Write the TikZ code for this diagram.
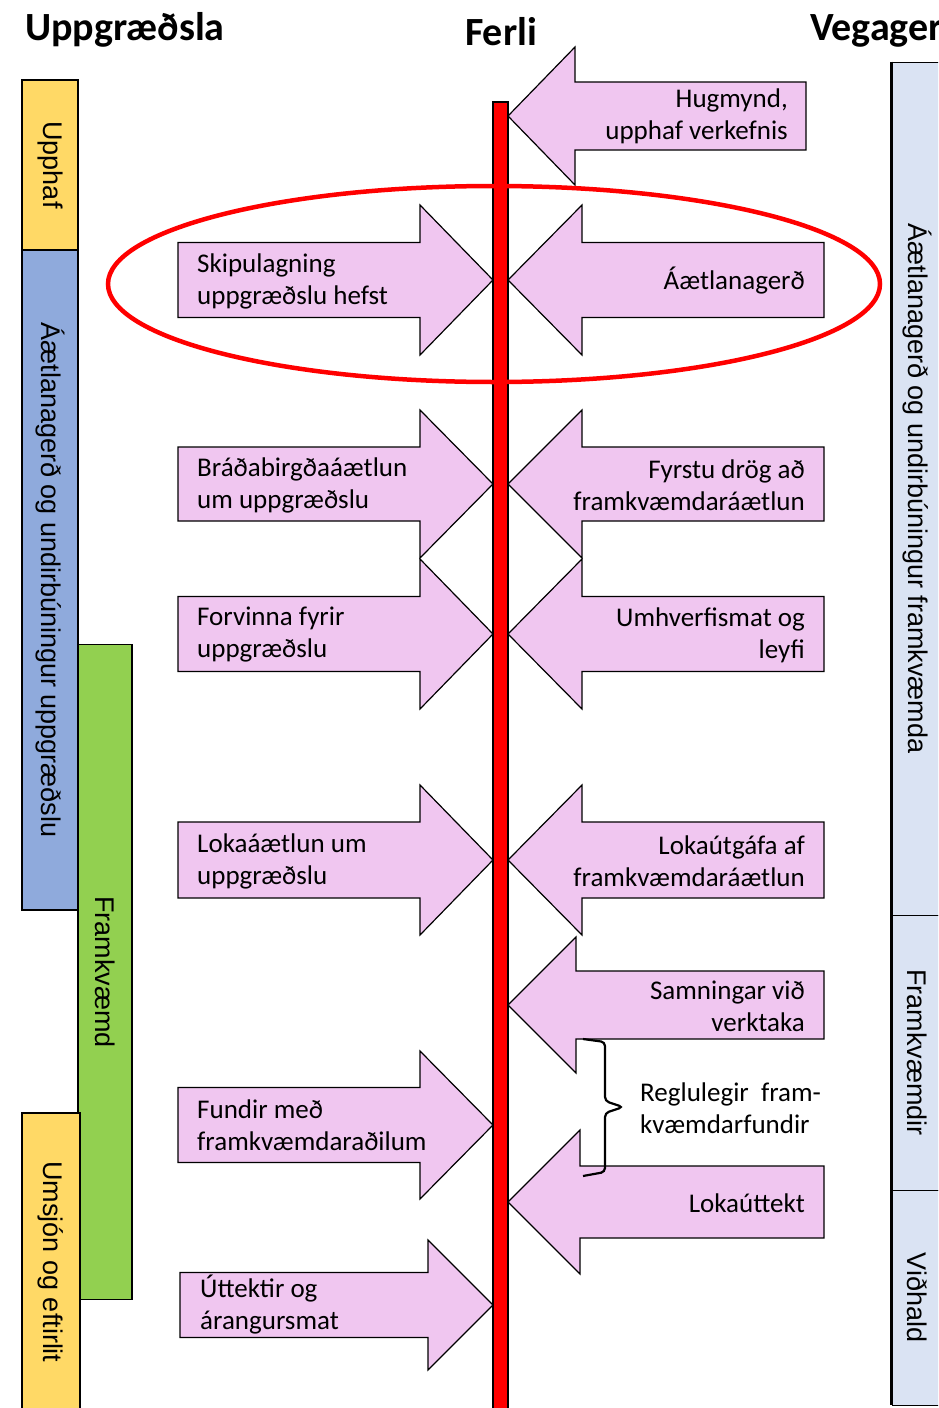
\documentclass[tikz,border=0pt]{standalone}
\usepackage{fontspec}
\setmainfont{Carlito}
\newfontfamily\barfont{Liberation Sans}
\definecolor{arrpink}{RGB}{240,198,240}
\definecolor{barylw}{RGB}{255,217,102}
\definecolor{barblu}{RGB}{143,170,220}
\definecolor{bargrn}{RGB}{146,208,80}
\definecolor{barlbl}{RGB}{218,227,243}

% body end x, head base x, tip x, centre y, half body, half head
\newcommand{\pinkarrow}[6]{%
\draw[parr] ({#1},{#4-#5}) -- ({#2},{#4-#5}) -- ({#2},{#4-#6}) -- ({#3},{#4})
  -- ({#2},{#4+#6}) -- ({#2},{#4+#5}) -- ({#1},{#4+#5}) -- cycle;}

\begin{document}
\begin{tikzpicture}[x=1pt,y=-1pt,
 parr/.style={fill=arrpink,draw=black,line width=1.2pt},
 ltxt/.style={anchor=west,align=left,inner sep=0pt,font=\fontsize{27}{32}\selectfont},
 rtxt/.style={anchor=east,align=right,inner sep=0pt,font=\fontsize{27}{32}\selectfont},
 head/.style={inner sep=0pt,font=\fontsize{40}{46}\selectfont\bfseries},
 lbar/.style={draw=black,line width=1.2pt,rotate=-90,inner sep=0pt,font=\barfont\fontsize{27}{32}\selectfont},
 rbar/.style={fill=barlbl,draw=black,line width=0.8pt,rotate=-90,inner sep=0pt,minimum height=50pt,font=\barfont\fontsize{27}{32}\selectfont}]
\def\tipL{493}
\def\tipR{508}
\path[use as bounding box] (0,0) rectangle (938,1408);
\clip (0,0) rectangle (938,1408);
  % headers
\node[head,anchor=base west] (hupp) at (25,40) {Uppgræðsla};
\node[head,anchor=base] (hferli) at (501,45) {Ferli};
\node[head,anchor=base west] (hveg) at (810,40) {Vegagerð};
  % left bars
\node[lbar,fill=barylw,minimum width=170pt,minimum height=56pt] (upphaf) at (50,165) {Upphaf};
\node[lbar,fill=barblu,minimum width=660pt,minimum height=56pt] (aaetl) at (50,580) {Áætlanagerð og undirbúningur uppgræðslu};
\node[lbar,fill=bargrn,minimum width=655pt,minimum height=54pt] (framkv) at (105,972) {Framkvæmd};
\node[lbar,fill=barylw,minimum width=298pt,minimum height=58pt] (umsjon) at (51,1262) {Umsjón og eftirlit};
  % right bars
\node[rbar,minimum width=853pt] (raetl) at (917,488.5) {Áætlanagerð og undirbúningur framkvæmda};
\node[rbar,minimum width=275pt] (rframkv) at (917,1052.5) {Framkvæmdir};
\node[rbar,minimum width=215pt] (rvidh) at (917,1297.5) {Viðhald};
\draw[line width=2.5pt] (raetl.south west) -- (rvidh.south east);
  % arrows into the line
\pinkarrow{178}{420}{\tipL}{280}{37.5}{75}
\pinkarrow{178}{420}{\tipL}{484}{37}{74}
\pinkarrow{178}{420}{\tipL}{634}{37.5}{75}
\pinkarrow{178}{420}{\tipL}{860}{38}{75}
\pinkarrow{178}{420}{\tipL}{1125}{37.5}{74}
\pinkarrow{180}{428}{\tipL}{1305}{32.5}{65}
\pinkarrow{806}{575}{\tipR}{116}{34}{69}
\pinkarrow{824}{582}{\tipR}{280}{37.5}{75}
\pinkarrow{824}{582}{\tipR}{484}{37}{74}
\pinkarrow{824}{582}{\tipR}{634}{37.5}{75}
\pinkarrow{824}{582}{\tipR}{860}{38}{75}
\pinkarrow{824}{576}{\tipR}{1005}{34}{68}
\pinkarrow{824}{580}{\tipR}{1202}{36}{72}
  % the line
\draw[fill=red,draw=black,line width=1.2pt] (493,102) rectangle (508,1420);
\draw[red,line width=4.5pt] (494,284) ellipse [x radius=386pt,y radius=98pt];
  % texts
\node[ltxt] (skip) at (197,281) {Skipulagning\\uppgræðslu hefst};
\node[ltxt] (brab) at (197,485) {Bráðabirgðaáætlun\\um uppgræðslu};
\node[ltxt] (forv) at (197,635) {Forvinna fyrir\\uppgræðslu};
\node[ltxt] (loka) at (197,861) {Lokaáætlun um\\uppgræðslu};
\node[ltxt] (fund) at (197,1125) {Fundir með\\framkvæmdaraðilum};
\node[ltxt] (uttk) at (200,1305) {Úttektir og\\árangursmat};
\node[rtxt] (hugm) at (788,116) {Hugmynd,\\upphaf verkefnis};
\node[rtxt] (aaet) at (805,281) {Áætlanagerð};
\node[rtxt] (fyrs) at (805,485) {Fyrstu drög að\\framkvæmdaráætlun};
\node[rtxt] (umhv) at (805,635) {Umhverfismat og\\leyfi};
\node[rtxt] (lokut) at (805,861) {Lokaútgáfa af\\framkvæmdaráætlun};
\node[rtxt] (samn) at (805,1006) {Samningar við\\verktaka};
\node[rtxt] (lokat) at (805,1203) {Lokaúttekt};
  % brace
\coordinate (bt) at (583,1039);
\coordinate (bm) at (623,1107);
\coordinate (bb) at (583,1176);
\draw[line width=2.2pt,rounded corners=4pt] (bt) -- (605,1042) -- (605,1101) -- (bm)
  -- (605,1113) -- (605,1172) -- (bb);
\node[ltxt] (regl) at (640,1108) {Reglulegir\ \ fram-\\kvæmdarfundir};
\end{tikzpicture}
\end{document}
